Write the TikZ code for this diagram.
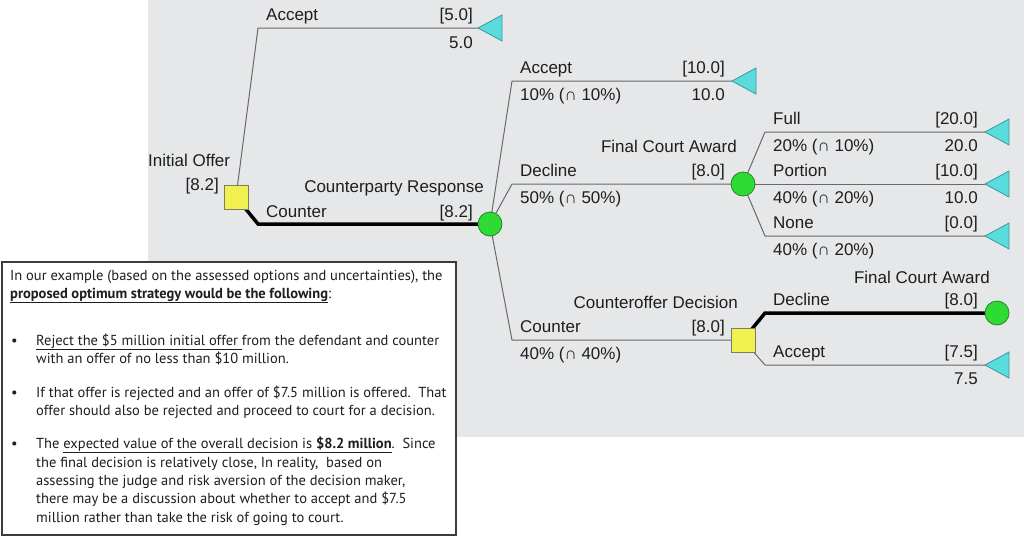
\documentclass[tikz,border=0pt]{standalone}
\usepackage{fontspec}
\setmainfont{Liberation Sans}
\newfontfamily\boxfont{PT Sans}
\pgfdeclarelayer{back}
\pgfdeclarelayer{lines}
\pgfsetlayers{back,lines,main}
\definecolor{bggray}{RGB}{230,231,233}
\definecolor{sqfill}{RGB}{240,240,80}
\definecolor{sqline}{RGB}{125,125,95}
\definecolor{cfill}{RGB}{45,220,50}
\definecolor{cline}{RGB}{40,130,40}
\definecolor{tfill}{RGB}{90,220,220}
\definecolor{tline}{RGB}{60,150,160}
\definecolor{txt}{RGB}{30,30,30}
\definecolor{thin}{RGB}{105,105,105}
\definecolor{boxline}{RGB}{60,60,60}
\tikzset{
  dec/.style={rectangle, draw=sqline, fill=sqfill, minimum size=24pt, inner sep=0pt, line width=0.8pt},
  chance/.style={circle, draw=cline, fill=cfill, minimum size=24pt, inner sep=0pt, line width=0.8pt},
  term/.style={draw=tline, fill=tfill, line width=0.8pt},
  br/.style={draw=thin, line width=1pt},
  opt/.style={draw=black, line width=3.5pt},
  lab/.style={font=\fontsize{17}{20}\selectfont, text=txt, inner sep=0pt},
  lw/.style={lab, anchor=base west},
  le/.style={lab, anchor=base east},
  bx/.style={font=\boxfont\fontsize{14.5}{17}\selectfont, anchor=base west, inner sep=0pt, text=txt},
}
\begin{document}
\begin{tikzpicture}[x=1pt,y=-1pt]
\useasboundingbox (0,0) rectangle (1024,538);
\begin{pgfonlayer}{back}
\fill[bggray] (148,0) rectangle (1024,437);
\end{pgfonlayer}
% decision / chance nodes
\node[dec] (io) at (236,197) {};
\node[chance] (cr) at (490,224) {};
\node[chance] (fca1) at (743,184) {};
\node[dec] (cod) at (743,340) {};
\node[chance] (fca2) at (997,313) {};
% terminal tips
\coordinate (t1) at (478,28);
\coordinate (t2) at (732,81);
\coordinate (t3) at (985,132);
\coordinate (t4) at (985,184);
\coordinate (t5) at (985,236);
\coordinate (t6) at (985,365);
% corners
\coordinate (k1) at (258,28);
\coordinate (k2) at (258,224);
\coordinate (k3) at (512,81);
\coordinate (k4) at (512,184);
\coordinate (k5) at (512,340);
\coordinate (k6) at (765,132);
\coordinate (k8) at (765,236);
\coordinate (k9) at (765,313);
\coordinate (k10) at (765,365);
\begin{pgfonlayer}{lines}
\draw[br] (io.center) -- (k1) -- (t1);
\draw[opt] (io.center) -- (k2) -- (cr.center);
\draw[br] (cr.center) -- (k3) -- (t2);
\draw[br] (cr.center) -- (k4) -- (fca1.center);
\draw[br] (cr.center) -- (k5) -- (cod.center);
\draw[br] (fca1.center) -- (k6) -- (t3);
\draw[br] (fca1.center) -- (t4);
\draw[br] (fca1.center) -- (k8) -- (t5);
\draw[opt] (cod.center) -- (k9) -- (fca2.center);
\draw[br] (cod.center) -- (k10) -- (t6);
\end{pgfonlayer}
% terminal triangles
\foreach \t in {t1,t2,t3,t4,t5,t6}{
  \path[term] (\t) -- ++(24,-13) -- ++(0,26) -- cycle;
}
% labels: Initial Offer
\node[lw] (l1) at (148,166) {Initial Offer};
\node[le] (l2) at (219,190) {[8.2]};
\node[lw] (l3) at (266,20) {Accept};
\node[le] (l4) at (473,20) {[5.0]};
\node[le] (l5) at (473,48) {5.0};
\node[lw] (l6) at (266,217) {Counter};
\node[le] (l7) at (473,217) {[8.2]};
\node[le] (l8) at (484,192) {Counterparty Response};
% Counterparty response branches
\node[lw] (l9) at (520,73) {Accept};
\node[le] (l10) at (725,73) {[10.0]};
\node[lw] (l11) at (520,100) {10\% (∩ 10\%)};
\node[le] (l12) at (725,100) {10.0};
\node[le] (l13) at (737,152) {Final Court Award};
\node[lw] (l14) at (520,176) {Decline};
\node[le] (l15) at (725,176) {[8.0]};
\node[lw] (l16) at (520,203) {50\% (∩ 50\%)};
\node[le] (l17) at (738,308) {Counteroffer Decision};
\node[lw] (l18) at (520,332) {Counter};
\node[le] (l19) at (725,332) {[8.0]};
\node[lw] (l20) at (520,359) {40\% (∩ 40\%)};
% Final court award (upper)
\node[lw] (l21) at (773,124) {Full};
\node[le] (l22) at (978,124) {[20.0]};
\node[lw] (l23) at (773,151) {20\% (∩ 10\%)};
\node[le] (l24) at (978,151) {20.0};
\node[lw] (l25) at (773,176) {Portion};
\node[le] (l26) at (978,176) {[10.0]};
\node[lw] (l27) at (773,203) {40\% (∩ 20\%)};
\node[le] (l28) at (978,203) {10.0};
\node[lw] (l29) at (773,228) {None};
\node[le] (l30) at (978,228) {[0.0]};
\node[lw] (l31) at (773,255) {40\% (∩ 20\%)};
% Counteroffer decision branches
\node[le] (l32) at (990,283) {Final Court Award};
\node[lw] (l33) at (773,305) {Decline};
\node[le] (l34) at (978,305) {[8.0]};
\node[lw] (l35) at (773,357) {Accept};
\node[le] (l36) at (978,357) {[7.5]};
\node[le] (l37) at (978,384) {7.5};
% text box
\draw[draw=boxline, fill=white, line width=1.2pt] (2,262) rectangle (456,535);
\node[bx] (b1) at (10,280) {In our example (based on the assessed options and uncertainties), the};
\node[bx] (b2) at (10,298) {\underline{\textbf{proposed optimum strategy would be the following}}:};
\node[bx] (d1) at (11,345) {•};
\node[bx] (b3) at (36,345) {\underline{Reject the \$5 million initial offer }from the defendant and counter};
\node[bx] (b4) at (36,363) {with an offer of no less than \$10 million.};
\node[bx] (d2) at (11,397) {•};
\node[bx] (b5) at (36,397) {If that offer is rejected and an offer of \$7.5 million is offered.\ \ That};
\node[bx] (b6) at (36,415) {offer should also be rejected and proceed to court for a decision.};
\node[bx] (d3) at (11,448) {•};
\node[bx] (b7) at (36,448) {The \underline{expected value of the overall decision is \textbf{\$8.2 million}}.\ \ Since};
\node[bx] (b8) at (36,467) {the final decision is relatively close, In reality,\ \ based on};
\node[bx] (b9) at (36,485) {assessing the judge and risk aversion of the decision maker,};
\node[bx] (b10) at (36,503) {there may be a discussion about whether to accept and \$7.5};
\node[bx] (b11) at (36,522) {million rather than take the risk of going to court.};
\end{tikzpicture}
\end{document}
